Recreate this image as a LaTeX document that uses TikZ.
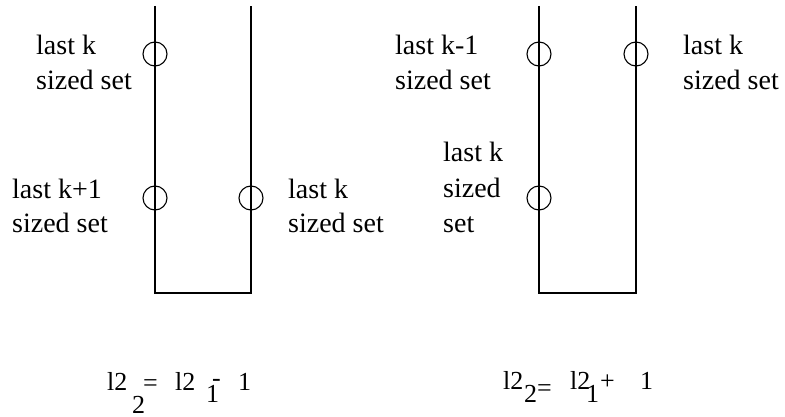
\documentclass[tikz,border=0pt]{standalone}
\usepackage{fontspec}
\setmainfont{Liberation Serif}
\tikzset{
  wire/.style={draw=black, line width=1.1pt},
  ring/.style={circle, draw=black, line width=1.1pt, minimum size=24pt, inner sep=0pt},
  lbl/.style={anchor=base west, inner sep=0pt, font=\fontsize{28}{34}\selectfont},
  eq/.style={anchor=base west, inner sep=0pt, font=\fontsize{26}{30}\selectfont}
}
\begin{document}
\begin{tikzpicture}[x=1pt, y=-1pt]
  \useasboundingbox (0,0) rectangle (785,417);

  % left channel
  \coordinate (aTL) at (155,6);
  \coordinate (aBL) at (155,293);
  \coordinate (aBR) at (251,293);
  \coordinate (aTR) at (251,6);
  \draw[wire] (aTL) -- (aBL) -- (aBR) -- (aTR);
  \node[ring] (a1) at (155,54) {};
  \node[ring] (a2) at (155,198) {};
  \node[ring] (a3) at (251,198) {};

  \node[lbl] (ta1) at (36,55) {last k};
  \node[lbl] (ta2) at (36,90) {sized set};
  \node[lbl] (tb1) at (12,198) {last k+1};
  \node[lbl] (tb2) at (12,233) {sized set};
  \node[lbl] (tc1) at (288,198) {last k};
  \node[lbl] (tc2) at (288,233) {sized set};

  % right channel
  \coordinate (bTL) at (539,6);
  \coordinate (bBL) at (539,293);
  \coordinate (bBR) at (636,293);
  \coordinate (bTR) at (636,6);
  \draw[wire] (bTL) -- (bBL) -- (bBR) -- (bTR);
  \node[ring] (b1) at (539,54) {};
  \node[ring] (b2) at (636,54) {};
  \node[ring] (b3) at (539,198) {};

  \node[lbl] (td1) at (395,55) {last k-1};
  \node[lbl] (td2) at (395,90) {sized set};
  \node[lbl] (te1) at (683,55) {last k};
  \node[lbl] (te2) at (683,90) {sized set};
  \node[lbl] (tf1) at (443,162) {last k};
  \node[lbl] (tf2) at (443,197) {sized};
  \node[lbl] (tf3) at (443,233) {set};

  % left relation
  \node[eq] (p1) at (107,390) {l2};
  \node[eq] (p2) at (132,413) {2};
  \node[eq] (p3) at (143,391) {=};
  \node[eq] (p4) at (175,390) {l2};
  \node[eq] (p5) at (206,402) {1};
  \node[eq] (p6) at (212,386) {-};
  \node[eq] (p7) at (238,390) {1};

  % right relation
  \node[eq] (q1) at (503,389) {l2};
  \node[eq] (q2) at (524,402) {2};
  \node[eq] (q3) at (537,396) {=};
  \node[eq] (q4) at (570,389) {l2};
  \node[eq] (q5) at (586,402) {1};
  \node[eq] (q6) at (600,389) {+};
  \node[eq] (q7) at (640,389) {1};
\end{tikzpicture}
\end{document}
